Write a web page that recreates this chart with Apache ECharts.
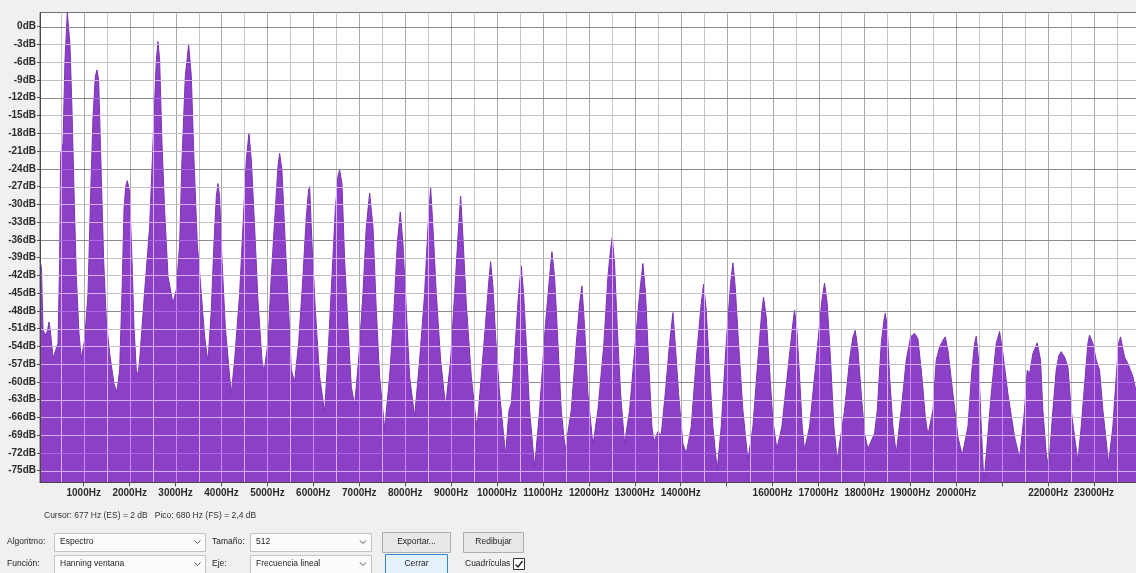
<!DOCTYPE html>
<html>
<head>
<meta charset="utf-8">
<script src="https://cdn.jsdelivr.net/npm/echarts@6/dist/echarts.min.js"></script>
<style>
  html, body { margin: 0; padding: 0; background: #f0f0f0; }
  #chart { width: 1136px; height: 573px; }
</style>
</head>
<body>
<div id="chart"></div>
<script>
// ---- Spectrum values (frequency in Hz, level in dB) ----
var spectrumHz = [
  50, 81, 113, 179, 211, 244, 277, 320, 331,
  440, 476, 498, 549, 592, 643, 701, 745, 788, 839, 897, 948,
  1020, 1093, 1151, 1202, 1253, 1289, 1325, 1383, 1434, 1492, 1565, 1659, 1724,
  1782, 1833, 1877, 1913, 1949, 1993, 2051, 2094, 2145, 2182,
  2218, 2312, 2435, 2508, 2581, 2617, 2653, 2704, 2762, 2835, 2943,
  3016, 3089, 3139, 3212, 3285, 3343, 3401, 3473, 3560, 3633, 3705,
  3778, 3836, 3887, 3923, 3959, 4010, 4083, 4177, 4213,
  4286, 4395, 4467, 4540, 4598, 4649, 4721, 4794, 4881, 4925,
  5012, 5084, 5171, 5229, 5266, 5316, 5389, 5462, 5520, 5592,
  5679, 5774, 5846, 5897, 5919, 5970, 6043, 6137, 6246,
  6333, 6405, 6478, 6536, 6572, 6623, 6681, 6754, 6826, 6899,
  6986, 7080, 7153, 7226, 7298, 7371, 7443, 7552,
  7661, 7755, 7828, 7893, 7951, 8024, 8096, 8205,
  8314, 8423, 8496, 8554, 8604, 8677, 8771, 8880,
  8989, 9076, 9149, 9207, 9257, 9330, 9439, 9562,
  9657, 9744, 9816, 9860, 9911, 9969, 10056, 10186,
  10260, 10310, 10397, 10469, 10527, 10578, 10636, 10709, 10818,
  10927, 11050, 11144, 11195, 11253, 11326, 11398, 11485,
  11616, 11725, 11797, 11848, 11906, 11979, 12088,
  12196, 12327, 12414, 12472, 12508, 12559, 12617, 12690, 12777,
  12886, 13009, 13104, 13176, 13234, 13299, 13372, 13416, 13503, 13575,
  13662, 13757, 13829, 13880, 13953, 14047, 14120,
  14228, 14337, 14446, 14497, 14555, 14613, 14700, 14794,
  14881, 14990, 15085, 15136, 15186, 15259, 15353, 15462,
  15571, 15680, 15767, 15803, 15861, 15934, 16006, 16093,
  16202, 16333, 16442, 16478, 16529, 16587, 16645, 16696,
  16805, 16950, 17073, 17131, 17189, 17262, 17334, 17407,
  17567, 17676, 17749, 17800, 17858, 17930, 18003, 18075, 18221,
  18279, 18366, 18424, 18453, 18496, 18547, 18620, 18692,
  18801, 18910, 19004, 19091, 19164, 19251, 19324, 19382,
  19491, 19563, 19636, 19708, 19759, 19817, 19926, 20035, 20129,
  20253, 20340, 20398, 20434, 20485, 20543, 20601,
  20673, 20761, 20869, 20942, 21015, 21123, 21269, 21377,
  21486, 21544, 21595, 21668, 21762, 21834, 21885, 21958, 22009,
  22103, 22176, 22234, 22284, 22357, 22430, 22502, 22647,
  22720, 22807, 22865, 22901, 22974, 23046, 23119, 23192, 23315,
  23409, 23482, 23533, 23576, 23663, 23736, 23845, 23910, 24000
];
var spectrumDb = [
  -39.5, -40.8, -51.3, -52.1, -51.3, -49.9, -51.6, -55.0, -56.0,
  -53.5, -39.4, -21.4, -19.7, -5.6, 2.4, -3.1, -14.1, -27.6, -42.2, -51.8, -56.0,
  -52.9, -45.1, -28.2, -15.2, -8.4, -7.3, -9.0, -25.3, -39.4, -49.6, -55.2, -60.3, -61.7,
  -58.0, -45.1, -31.0, -27.0, -26.0, -27.6, -39.4, -50.7, -58.0, -58.9,
  -56.3, -46.2, -33.8, -19.7, -5.6, -2.5, -5.6, -19.7, -31.0, -42.2, -46.7,
  -44.5, -36.6, -22.5, -8.4, -3.0, -8.4, -22.5, -36.6, -45.1, -52.4, -56.6,
  -47.9, -36.6, -28.7, -26.5, -28.7, -39.4, -50.7, -59.1, -62.0,
  -56.3, -45.1, -33.8, -22.5, -18.0, -22.5, -33.8, -46.2, -56.3, -58.3,
  -53.5, -42.2, -31.0, -23.7, -21.4, -24.2, -36.6, -47.9, -58.0, -60.0,
  -53.5, -42.2, -32.1, -27.6, -27.0, -36.6, -47.9, -59.1, -65.1,
  -53.5, -42.2, -31.0, -25.3, -24.2, -26.5, -39.4, -50.7, -60.8, -63.9,
  -56.3, -45.1, -33.8, -28.1, -33.8, -47.9, -59.1, -67.9,
  -59.1, -47.9, -36.6, -31.3, -36.6, -47.9, -59.1, -65.9,
  -56.3, -45.1, -33.8, -27.2, -33.8, -45.1, -56.3, -64.2,
  -56.3, -45.1, -35.5, -28.6, -35.5, -46.8, -59.1, -67.9,
  -59.1, -50.7, -43.4, -39.7, -43.9, -52.4, -62.0, -72.4,
  -64.8, -63.6, -53.5, -45.1, -40.4, -45.1, -53.5, -64.8, -74.4,
  -64.8, -50.7, -42.2, -38.0, -42.2, -53.5, -64.8, -71.5,
  -64.8, -53.5, -46.8, -43.8, -50.7, -62.0, -70.7,
  -64.8, -53.5, -42.2, -37.7, -35.6, -40.0, -50.7, -62.0, -70.4,
  -64.8, -53.5, -45.1, -40.0, -45.1, -56.3, -67.6, -70.1, -68.4, -69.0,
  -62.0, -53.5, -48.3, -53.5, -62.0, -70.4, -72.1,
  -67.6, -56.3, -46.8, -43.5, -47.9, -56.3, -67.6, -74.9,
  -67.6, -53.5, -43.4, -39.9, -43.9, -53.5, -64.8, -73.2,
  -67.6, -56.3, -47.9, -45.7, -49.0, -58.0, -66.5, -71.3,
  -67.6, -58.0, -50.1, -47.9, -51.3, -59.1, -67.6, -71.5,
  -67.6, -56.3, -46.2, -43.3, -46.8, -56.3, -67.6, -73.2,
  -64.8, -56.3, -52.4, -51.3, -54.6, -62.0, -68.7, -71.3, -68.7,
  -64.8, -53.5, -49.6, -48.4, -50.7, -59.1, -67.6, -72.1,
  -64.8, -56.3, -52.4, -51.8, -52.7, -59.1, -65.9, -69.0,
  -64.8, -56.3, -54.1, -53.0, -52.4, -54.6, -62.0, -69.3, -72.4,
  -67.6, -58.0, -53.5, -52.3, -56.3, -67.6, -77.0,
  -70.4, -62.0, -53.5, -51.5, -55.2, -62.0, -69.3, -72.9,
  -64.8, -58.0, -58.6, -55.2, -53.4, -56.3, -64.8, -72.1, -74.6,
  -64.8, -58.0, -55.5, -54.9, -55.8, -57.4, -64.8, -73.5,
  -67.6, -59.1, -53.5, -52.1, -53.5, -56.3, -58.0, -64.8, -73.8,
  -67.6, -59.1, -53.5, -52.4, -55.8, -56.9, -59.1, -61.4, -62.0
];

// ---- Axis ticks / labels ----
var freqLabelValues = [1000, 2000, 3000, 4000, 5000, 6000, 7000, 8000, 9000, 10000, 11000, 12000,
  13000, 14000, 16000, 17000, 18000, 19000, 20000, 22000, 23000];
var freqTickValues = [1000, 2000, 3000, 4000, 5000, 6000, 7000, 8000, 9000, 10000, 11000, 12000,
  13000, 14000, 15000, 16000, 17000, 18000, 19000, 20000, 21000, 22000, 23000];
var dbLabelValues = [0, -3, -6, -9, -12, -15, -18, -21, -24, -27, -30, -33, -36, -39, -42, -45,
  -48, -51, -54, -57, -60, -63, -66, -69, -72, -75];

// ---- Grid lines ----
var gridFreqMajor = freqTickValues;
var gridFreqMinor = [500, 1500, 2500, 3500, 4500, 5500, 6500, 7500, 8500, 9500, 10500, 11500,
  12500, 13500, 14500, 15500, 16500, 17500, 18500, 19500, 20500, 21500, 22500, 23500];
var gridDbMajor = [0, -12, -24, -36, -48, -60, -72];
var gridDbMinor = [-3, -6, -9, -15, -18, -21, -27, -30, -33, -39, -42, -45, -51, -54, -57,
  -63, -66, -69, -75];

var FREQ_MIN = 48, FREQ_MAX = 24000, DB_MIN = -77, DB_MAX = 2.4;
var gridColors = ['#c6c6c6', '#a8a8a8', '#c2c2c2', '#8a8a8a'];

var gridData = [];
gridFreqMinor.forEach(function (f) { gridData.push([f, -30, 0]); });
gridFreqMajor.forEach(function (f) { gridData.push([f, -30, 1]); });
gridDbMinor.forEach(function (d) { gridData.push([12000, d, 2]); });
gridDbMajor.forEach(function (d) { gridData.push([12000, d, 3]); });

var spectrumData = spectrumHz.map(function (f, i) { return [f, spectrumDb[i]]; });

var chart = echarts.init(document.getElementById('chart'), null, { renderer: 'canvas' });
var axisFont = { fontFamily: 'Liberation Sans', fontSize: 10, fontWeight: 'bold', color: '#2b2b2b' };
var uiFont = '8.5px "Liberation Sans"';
var purple = '#8c40c8';

function label(text, x, y, opts) {
  opts = opts || {};
  return {
    type: 'text', x: x, y: y, silent: true,
    style: { text: text, font: opts.font || uiFont, fill: opts.fill || '#1e1e1e',
      align: opts.align || 'left', verticalAlign: 'middle' }
  };
}
function box(x, y, w, h, fill, stroke) {
  return { type: 'rect', silent: true, shape: { x: x, y: y, width: w, height: h },
    style: { fill: fill, stroke: stroke, lineWidth: 1 } };
}
function chevron(cx, cy) {
  return { type: 'polyline', silent: true,
    shape: { points: [[cx - 3, cy - 1.5], [cx, cy + 1.5], [cx + 3, cy - 1.5]] },
    style: { stroke: '#555', fill: null, lineWidth: 1 } };
}

var r1 = 542, r2 = 564;
var graphics = [
  label('Cursor: 677 Hz (ES) = 2 dB   Pico: 680 Hz (FS) = 2,4 dB', 44, 516, { font: '8.5px "Liberation Sans"', fill: '#333' }),
  label('Algoritmo:', 7, r1),
  box(54.5, r1 - 8.5, 151, 18, '#fbfbfb', '#c4c4c4'),
  label('Espectro', 60, r1),
  chevron(197.5, r1),
  label('Tamaño:', 212, r1),
  box(250.5, r1 - 8.5, 121, 18, '#fbfbfb', '#c4c4c4'),
  label('512', 256, r1),
  chevron(363, r1),
  box(382.5, r1 - 9.5, 68, 20, '#e8e8e8', '#adadad'),
  label('Exportar...', 416.5, r1, { align: 'center' }),
  box(463.5, r1 - 9.5, 60, 20, '#e8e8e8', '#adadad'),
  label('Redibujar', 493.5, r1, { align: 'center' }),

  label('Función:', 7, r2),
  box(54.5, r2 - 8.5, 151, 18, '#fbfbfb', '#c4c4c4'),
  label('Hanning ventana', 60, r2),
  chevron(197.5, r2),
  label('Eje:', 212, r2),
  box(250.5, r2 - 8.5, 121, 18, '#fbfbfb', '#c4c4c4'),
  label('Frecuencia lineal', 256, r2),
  chevron(363, r2),
  box(385.5, r2 - 9.5, 62, 20, '#e5f1fb', '#2f86d6'),
  label('Cerrar', 416.5, r2, { align: 'center' }),
  label('Cuadrículas', 465, r2),
  box(513.5, r2 - 5.5, 11, 11, '#ffffff', '#333333'),
  { type: 'polyline', silent: true,
    shape: { points: [[515.5, r2 + 0.5], [518, r2 + 3], [522.5, r2 - 3]] },
    style: { stroke: '#222', fill: null, lineWidth: 1.4 } }
];

var option = {
  animation: false,
  backgroundColor: '#f0f0f0',
  grid: {
    left: 40, right: -4, top: 12.5, bottom: 90.5,
    show: true, backgroundColor: '#ffffff', borderColor: '#6e6e6e', borderWidth: 1,
    containLabel: false, outerBoundsMode: 'none'
  },
  xAxis: {
    type: 'value', min: FREQ_MIN, max: FREQ_MAX, z: 4,
    axisLine: { show: true, onZero: false, lineStyle: { color: '#4a4a4a', width: 1 } },
    axisTick: { show: true, length: 4, customValues: freqTickValues, lineStyle: { color: '#555' } },
    axisLabel: Object.assign({ customValues: freqLabelValues, margin: 6,
      formatter: function (v) { return v + 'Hz'; } }, axisFont),
    splitLine: { show: false }
  },
  yAxis: {
    type: 'value', min: DB_MIN, max: DB_MAX, z: 4,
    axisLine: { show: true, onZero: false, lineStyle: { color: '#4a4a4a', width: 1 } },
    axisTick: { show: true, length: 3, customValues: dbLabelValues, lineStyle: { color: '#555' } },
    axisLabel: Object.assign({ customValues: dbLabelValues, margin: 4,
      formatter: function (v) { return v + 'dB'; } }, axisFont),
    splitLine: { show: false }
  },
  series: [
    {
      type: 'line', name: 'Espectro', data: spectrumData, z: 2,
      showSymbol: false, symbol: 'none', smooth: false, silent: true,
      lineStyle: { color: '#7a34b4', width: 1 },
      areaStyle: { color: purple, opacity: 1, origin: 'start' }
    },
    {
      type: 'custom', name: 'Cuadrícula', coordinateSystem: 'cartesian2d',
      data: gridData, z: 3, silent: true, clip: false,
      blendMode: 'luminosity',
      encode: { x: 0, y: 1 },
      renderItem: function (params, api) {
        var kind = api.value(2);
        var p = api.coord([api.value(0), api.value(1)]);
        var cs = params.coordSys;
        var color = gridColors[kind];
        if (kind < 2) {
          var x = Math.round(p[0]) + 0.5;
          return { type: 'line', shape: { x1: x, y1: cs.y + 1, x2: x, y2: cs.y + cs.height },
            style: { stroke: color, lineWidth: 1, blend: 'luminosity' } };
        }
        var y = Math.round(p[1]) + 0.5;
        return { type: 'line', shape: { x1: cs.x + 1, y1: y, x2: cs.x + cs.width, y2: y },
          style: { stroke: color, lineWidth: 1, blend: 'luminosity' } };
      }
    }
  ],
  graphic: graphics
};
chart.setOption(option);
</script>
</body>
</html>
